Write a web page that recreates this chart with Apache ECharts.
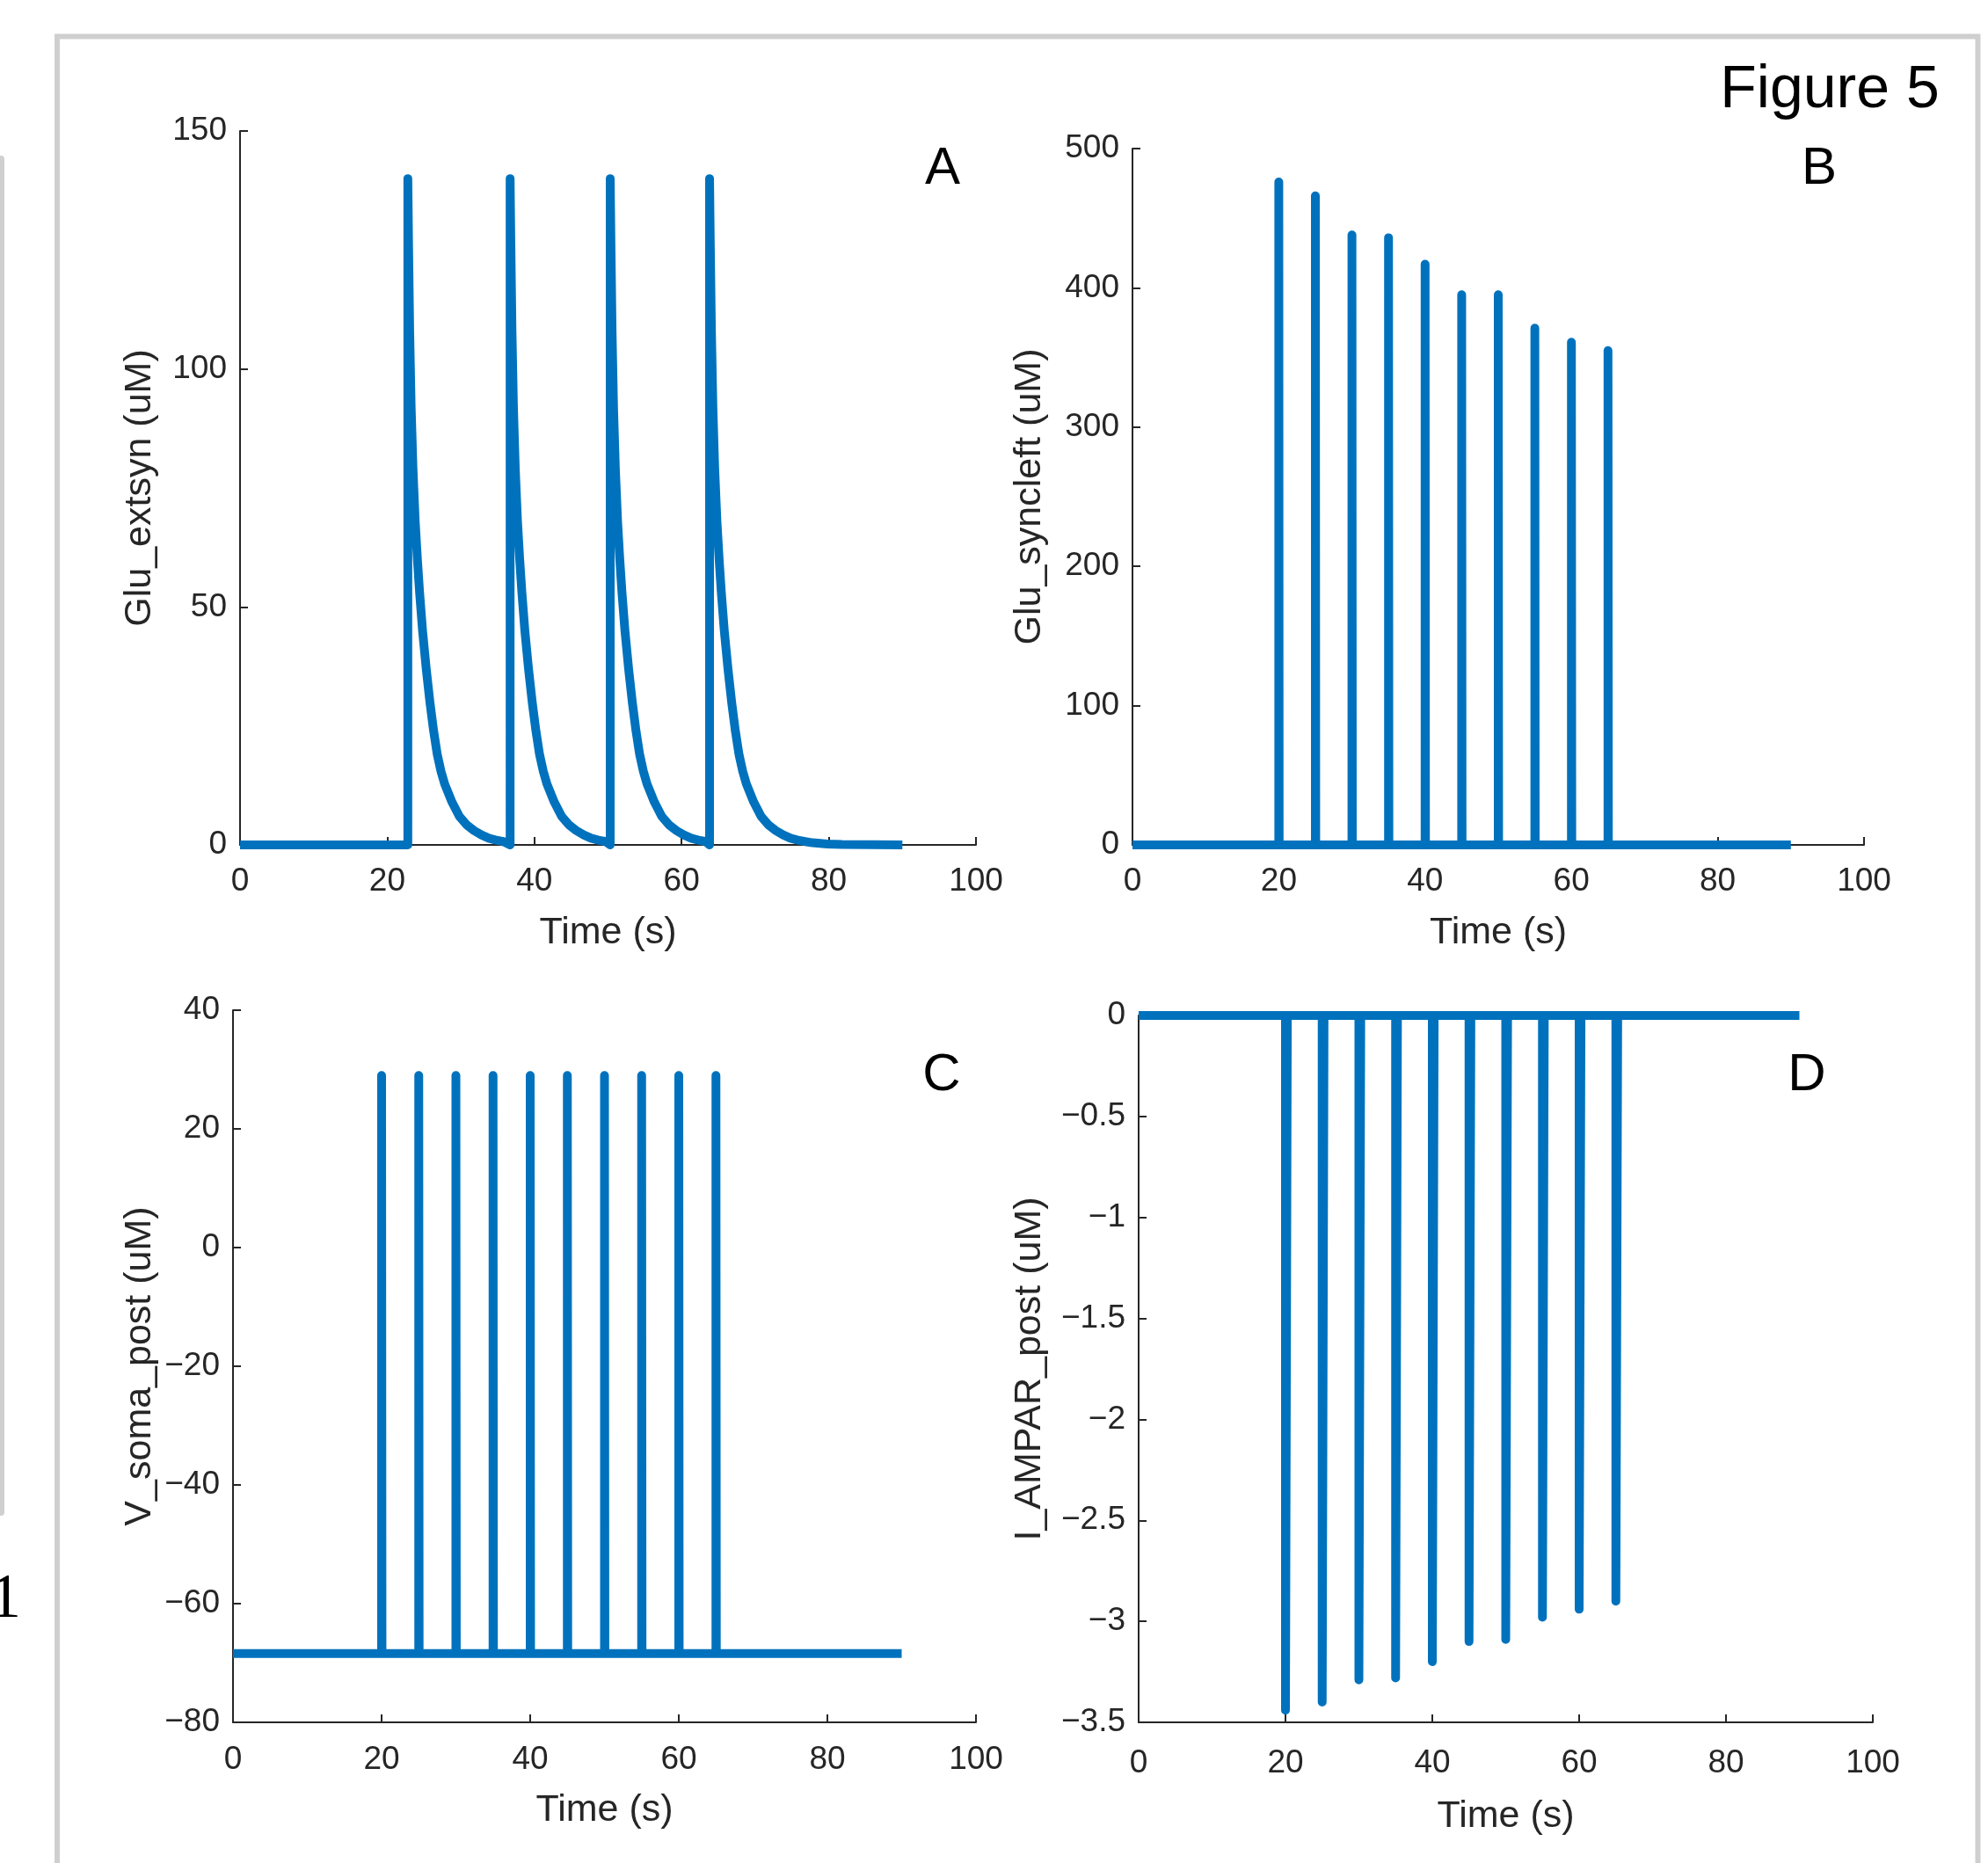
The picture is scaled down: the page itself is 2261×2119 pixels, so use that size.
<!DOCTYPE html>
<html><head><meta charset="utf-8">
<script src="https://cdn.jsdelivr.net/npm/echarts@6/dist/echarts.min.js"></script>
<style>html,body{margin:0;padding:0;background:#fff;}#c{width:2261px;height:2119px;}</style>
</head><body><div id="c"></div><script>
// ---------- data ----------
const tStart = 0;
const tEnd = 90;
const xTicks = [0, 20, 40, 60, 80, 100];

// Panel A: Glu_extsyn (uM)
const aPulseOnsets = [22.8, 36.7, 50.3, 63.8];
const aDecayOffsets = [0, 0.1, 0.25, 0.45, 0.7, 1.0, 1.3, 1.6, 2.0, 2.5, 3.0, 3.5, 4.0, 4.5, 5.0, 6.0, 7.0, 8.0, 9.0, 10.0, 11.0, 12.0, 13.0, 14.0, 16.0, 18.0];
const aDecayValues  = [140, 126, 108, 92, 79, 68, 60, 53, 45, 37, 30, 24, 19, 15.5, 12.8, 9, 6, 4.2, 3.0, 2.1, 1.4, 1.0, 0.7, 0.45, 0.2, 0.1];
const aYTicks = [0, 50, 100, 150];

// Panel B: Glu_syncleft (uM)
const bSpikeTimes = [20, 25, 30, 35, 40, 45, 50, 55, 60, 65];
const bPeaks = [476, 466, 438, 436, 417, 395, 395, 371, 361, 355];
const bBaseline = 0;
const bYTicks = [0, 100, 200, 300, 400, 500];

// Panel C: V_soma_post (uM)
const cSpikeTimes = [20, 25, 30, 35, 40, 45, 50, 55, 60, 65];
const cPeaks = [29, 29, 29, 29, 29, 29, 29, 29, 29, 29];
const cBaseline = -68.4;
const cYTicks = [-80, -60, -40, -20, 0, 20, 40];

// Panel D: I_AMPAR_post (uM)
const dSpikeTimes = [20, 25, 30, 35, 40, 45, 50, 55, 60, 65];
const dTroughs = [-3.44, -3.40, -3.29, -3.28, -3.20, -3.10, -3.09, -2.98, -2.94, -2.90];
const dBaseline = 0;
const dYTicks = [-3.5, -3, -2.5, -2, -1.5, -1, -0.5, 0];

// ---------- build series data ----------
function pulseTrain(onsets, offs, vals, end) {
  const out = [[tStart, 0]];
  onsets.forEach((t0, i) => {
    const next = i + 1 < onsets.length ? onsets[i + 1] : end;
    out.push([t0, 0]);
    for (let k = 0; k < offs.length; k++) {
      if (t0 + offs[k] < next) out.push([t0 + offs[k], vals[k]]);
    }
  });
  out.push([end, 0]);
  return out;
}
function spikeTrain(times, peaks, base, end, w) {
  const out = [[tStart, base]];
  times.forEach((t, i) => {
    out.push([t, base]);
    out.push([t, peaks[i]]);
    out.push([t + w, base]);
  });
  out.push([end, base]);
  return out;
}
const aData = pulseTrain(aPulseOnsets, aDecayOffsets, aDecayValues, tEnd);
const bData = spikeTrain(bSpikeTimes, bPeaks, bBaseline, tEnd, 0.05);
const cData = spikeTrain(cSpikeTimes, cPeaks, cBaseline, tEnd, 0.05);
const dData = spikeTrain(dSpikeTimes, dTroughs, dBaseline, tEnd, 0.25);

// ---------- styling ----------
const FONT = "'Liberation Sans', Arial, Helvetica, sans-serif";
const AX = '#262626';
const BLUE = '#0072BD';

const grids = [
  {left: 273, top: 149, width: 837, height: 812},
  {left: 1288, top: 169, width: 832, height: 792},
  {left: 265, top: 1149, width: 845, height: 810},
  {left: 1295, top: 1155, width: 835, height: 804}
];

function fmt(v) {
  const s = String(v);
  return s.charAt(0) === '-' ? '\u2212' + s.slice(1) : s;
}
function xAx(gi, gap, margin) {
  return {
    gridIndex: gi, type: 'value', min: xTicks[0], max: xTicks[xTicks.length - 1],
    interval: xTicks[1] - xTicks[0],
    name: 'Time (s)', nameLocation: 'middle', nameGap: gap,
    nameTextStyle: {color: AX, fontSize: 43, fontFamily: FONT},
    axisLine: {show: true, onZero: false, lineStyle: {color: AX, width: 2}},
    axisTick: {show: true, inside: true, length: 9, lineStyle: {color: AX, width: 2}},
    axisLabel: {margin: margin, color: AX, fontSize: 37, fontFamily: FONT, formatter: fmt},
    splitLine: {show: false}
  };
}
function yAx(gi, ticks, name, gap) {
  return {
    gridIndex: gi, type: 'value', min: ticks[0], max: ticks[ticks.length - 1],
    interval: ticks[1] - ticks[0],
    name: name, nameLocation: 'middle', nameGap: gap,
    nameTextStyle: {color: AX, fontSize: 43, fontFamily: FONT},
    axisLine: {show: true, onZero: false, lineStyle: {color: AX, width: 2}},
    axisTick: {show: true, inside: true, length: 9, lineStyle: {color: AX, width: 2}},
    axisLabel: {margin: 15, color: AX, fontSize: 37, fontFamily: FONT, formatter: fmt},
    splitLine: {show: false}
  };
}
function ser(gi, data) {
  return {
    type: 'line', xAxisIndex: gi, yAxisIndex: gi, data: data,
    showSymbol: false, symbol: 'none', clip: false, animation: false,
    lineStyle: {color: BLUE, width: 10, join: 'round', cap: 'butt'}
  };
}
function letter(txt, x, y, size) {
  return {type: 'text', x: x, y: y, z: 10,
    style: {text: txt, font: size + 'px ' + FONT, fill: '#000', align: 'center', verticalAlign: 'middle'}};
}

const option = {
  backgroundColor: '#fff',
  animation: false,
  grid: grids,
  xAxis: [xAx(0, 79, 23), xAx(1, 79, 23), xAx(2, 79, 24), xAx(3, 86, 28)],
  yAxis: [
    yAx(0, aYTicks, 'Glu_extsyn (uM)', 92),
    yAx(1, bYTicks, 'Glu_syncleft (uM)', 95),
    yAx(2, cYTicks, 'V_soma_post (uM)', 84),
    yAx(3, dYTicks, 'I_AMPAR_post (uM)', 102)
  ],
  series: [ser(0, aData), ser(1, bData), ser(2, cData), ser(3, dData)],
  graphic: [
    {type: 'rect', z: 0, shape: {x: 65, y: 41.5, width: 2184.5, height: 2200},
      style: {fill: 'none', stroke: '#cfcfcf', lineWidth: 6}},
    {type: 'rect', z: 0, shape: {x: -4, y: 177, width: 9, height: 1547, r: 4},
      style: {fill: '#d0d0d0'}},
    {type: 'text', x: 24, y: 1820, z: 10,
      style: {text: '1', font: '72px "Liberation Serif", "Times New Roman", serif', fill: '#000', align: 'right', verticalAlign: 'middle'}},
    letter('Figure 5', 2081, 103, 68),
    letter('A', 1072, 192, 60),
    letter('B', 2069, 192, 60),
    letter('C', 1071, 1223, 60),
    letter('D', 2055, 1223, 60)
  ]
};
const chart = echarts.init(document.getElementById('c'), null, {renderer: 'canvas'});
chart.setOption(option);
</script></body></html>
